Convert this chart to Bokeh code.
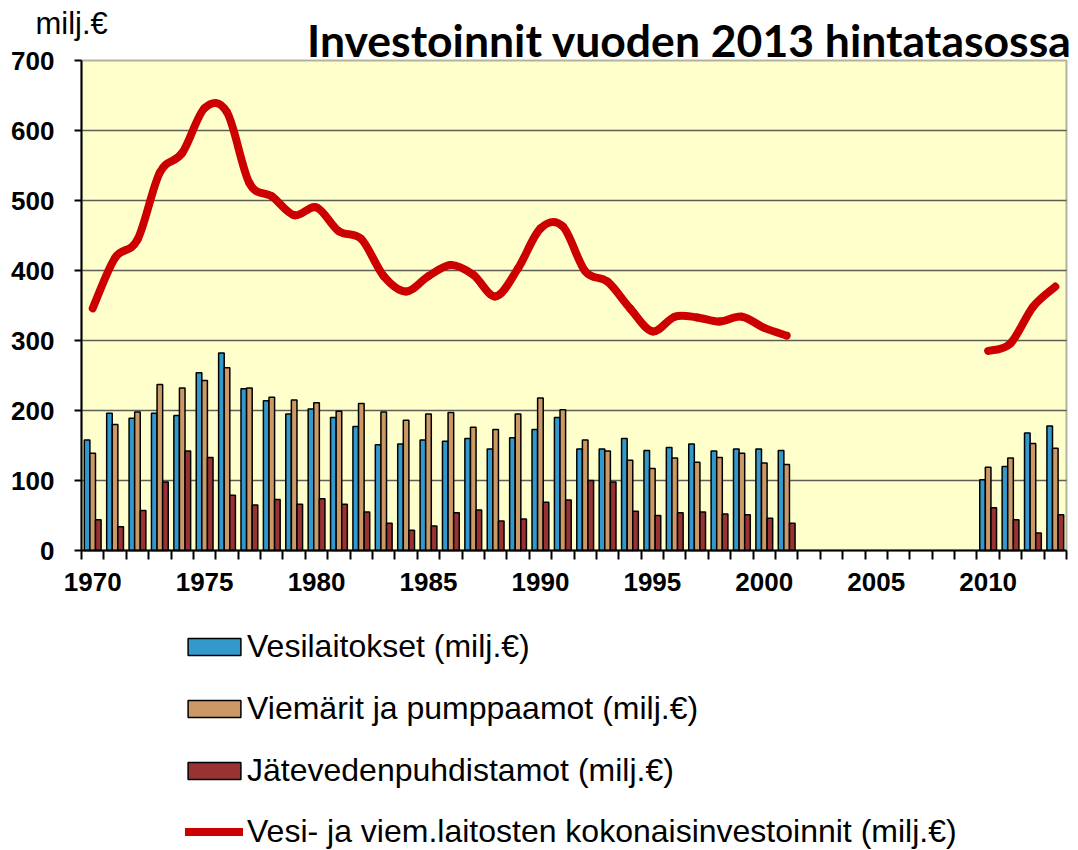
from bokeh.plotting import figure
from bokeh.models import (Range1d, FixedTicker, Legend, LegendItem, Label,
                          ColumnDataSource, BoxAnnotation)
from bokeh.embed import file_html
from bokeh.resources import INLINE

# ---------------- data ----------------
years = list(range(1970, 2014))
NA = None
vesilaitokset = [158, 196, 189, 196, 193, 254, 282, 231, 214, 195, 202, 190, 177, 151, 152,
                 158, 156, 160, 145, 161, 173, 190, 145, 145, 160, 143, 147, 152, 142, 145,
                 145, 143, NA, NA, NA, NA, NA, NA, NA, NA, 101, 120, 168, 178]
viemarit = [139, 180, 198, 237, 232, 243, 261, 232, 219, 215, 211, 199, 210, 198, 186,
            195, 197, 176, 173, 195, 218, 201, 158, 142, 129, 117, 132, 126, 133, 139,
            125, 123, NA, NA, NA, NA, NA, NA, NA, NA, 119, 132, 153, 146]
jatevesi = [44, 34, 57, 98, 142, 133, 79, 65, 73, 66, 74, 66, 55, 39, 29,
            35, 54, 58, 42, 45, 69, 72, 100, 98, 56, 50, 54, 55, 52, 51,
            46, 39, NA, NA, NA, NA, NA, NA, NA, NA, 61, 44, 25, 51]
kokonais = [346, 418, 444, 540, 568, 632, 626, 525, 506, 479, 490, 456, 445, 392, 370,
            392, 408, 394, 363, 403, 460, 463, 399, 384, 346, 313, 334, 333, 327, 334,
            318, 307, NA, NA, NA, NA, NA, NA, NA, NA, 285, 296, 348, 377]
tick_years = [1970, 1975, 1980, 1985, 1990, 1995, 2000, 2005, 2010]
y_ticks = [0, 100, 200, 300, 400, 500, 600, 700]

series_labels = ["Vesilaitokset (milj.€)", "Viemärit ja pumppaamot (milj.€)",
                 "Jätevedenpuhdistamot (milj.€)",
                 "Vesi- ja viem.laitosten kokonaisinvestoinnit (milj.€)"]
title_text = "Investoinnit vuoden 2013 hintatasossa"
unit_text = "milj.€"

# ---------------- layout ----------------
# The frame spans the whole canvas; axes are pinned to the plot-area edges.
W, H = 1076, 850
PL, PR, PT, PB = 81, 1066, 60, 550          # plot-area box in canvas pixels
XA, XB = years[0] - 0.5, years[-1] + 0.5     # category extent
YA, YB = y_ticks[0], y_ticks[-1]
xs_per_px = (XB - XA) / (PR - PL)
ys_per_px = (YB - YA) / (PB - PT)
X_LO = XA - PL * xs_per_px
X_HI = XB + (W - PR) * xs_per_px
Y_HI = YB + PT * ys_per_px
Y_LO = YA - (H - PB) * ys_per_px
FONT = "Liberation Sans"


def dx(cx):
    return X_LO + cx * xs_per_px


def dy(cy):
    return Y_HI - cy * ys_per_px


p = figure(width=W, height=H, output_backend="svg", toolbar_location=None,
           title=None, x_range=Range1d(X_LO, X_HI), y_range=Range1d(Y_LO, Y_HI),
           min_border_left=0, min_border_right=0, min_border_top=0,
           min_border_bottom=0)
p.background_fill_color = "white"
p.border_fill_color = "white"
p.outline_line_color = None

# plot area (yellow, black border)
p.add_layout(BoxAnnotation(left=XA, right=XB, bottom=YA, top=YB,
                           fill_color="#FFFFCC", fill_alpha=1.0,
                           line_color="black", line_width=2, level="image"))

# horizontal grid lines
grid_ticks = y_ticks[1:-1]
GRID_COLOR = "#5e5e55"
g = p.ygrid[0]
if "cross_bounds" in g.properties():
    g.ticker = FixedTicker(ticks=grid_ticks)
    g.cross_bounds = (XA, XB)
    g.grid_line_color = GRID_COLOR
    g.grid_line_width = 1.3
else:
    g.visible = False
    p.segment(x0=[XA] * len(grid_ticks), x1=[XB] * len(grid_ticks),
              y0=grid_ticks, y1=grid_ticks, line_color=GRID_COLOR, line_width=1.3)
p.xgrid.visible = False

# axes
p.yaxis.fixed_location = XA
p.xaxis.fixed_location = YA
p.yaxis.bounds = (YA, YB)
p.xaxis.bounds = (XA, XB)
p.yaxis.ticker = FixedTicker(ticks=y_ticks)
p.xaxis.ticker = FixedTicker(ticks=tick_years,
                             minor_ticks=[y - 0.5 for y in years] + [years[-1] + 0.5])
for ax in (p.xaxis[0], p.yaxis[0]):
    ax.axis_line_color = "black"
    ax.axis_line_width = 2
    ax.major_label_text_font = FONT
    ax.major_label_text_font_style = "bold"
    ax.major_label_text_font_size = "26px"
    ax.major_label_text_color = "black"
p.yaxis.major_tick_line_color = "black"
p.yaxis.major_tick_line_width = 2
p.yaxis.major_tick_out = 7
p.yaxis.major_tick_in = 0
p.yaxis.minor_tick_line_color = None
p.yaxis.major_label_standoff = 20
p.xaxis.major_tick_line_color = None
p.xaxis.major_tick_out = 0
p.xaxis.major_tick_in = 0
p.xaxis.minor_tick_line_color = "black"
p.xaxis.minor_tick_line_width = 2
p.xaxis.minor_tick_out = 9
p.xaxis.minor_tick_in = 0
p.xaxis.major_label_standoff = 13

# bars
BW = 0.25


def bars(vals, offset, color):
    xs = [y + offset for y, v in zip(years, vals) if v is not None]
    tops = [v for v in vals if v is not None]
    src = ColumnDataSource(dict(x=xs, top=tops))
    return p.vbar(x="x", top="top", bottom=0, width=BW, source=src,
                  fill_color=color, line_color="black", line_width=1.5)


r1 = bars(vesilaitokset, -BW, "#3399CC")
r2 = bars(viemarit, 0.0, "#CC9966")
r3 = bars(jatevesi, BW, "#993333")

# smoothed total line (Bezier segments built from the data points)
runs, cur = [], []
for x, v in zip(years, kokonais):
    if v is None:
        if cur:
            runs.append(cur)
            cur = []
    else:
        cur.append((x, v))
if cur:
    runs.append(cur)

seg = dict(x0=[], y0=[], x1=[], y1=[], cx0=[], cy0=[], cx1=[], cy1=[])
for run in runs:
    n = len(run)
    for i in range(n - 1):
        pa = run[i - 1] if i > 0 else run[i]
        pb = run[i]
        pc = run[i + 1]
        pd = run[i + 2] if i + 2 < n else run[i + 1]
        seg["x0"].append(pb[0]); seg["y0"].append(pb[1])
        seg["x1"].append(pc[0]); seg["y1"].append(pc[1])
        seg["cx0"].append(pb[0] + (pc[0] - pa[0]) / 6.0)
        seg["cy0"].append(pb[1] + (pc[1] - pa[1]) / 6.0)
        seg["cx1"].append(pc[0] - (pd[0] - pb[0]) / 6.0)
        seg["cy1"].append(pc[1] - (pd[1] - pb[1]) / 6.0)

r4 = p.bezier(x0="x0", y0="y0", x1="x1", y1="y1", cx0="cx0", cy0="cy0",
              cx1="cx1", cy1="cy1", source=ColumnDataSource(seg),
              line_color="#CC0000", line_width=8, line_cap="round")

# legends below the plot area (frame covers the whole canvas)
legend_style = dict(orientation="vertical", label_height=38, spacing=24,
                    padding=0, margin=0, border_line_color=None,
                    background_fill_alpha=0, label_text_font=FONT,
                    label_text_font_size="32px", label_text_color="black")
bar_legend = Legend(items=[LegendItem(label=series_labels[0], renderers=[r1]),
                           LegendItem(label=series_labels[1], renderers=[r2]),
                           LegendItem(label=series_labels[2], renderers=[r3])],
                    location=(181, 61), glyph_width=66, glyph_height=21,
                    label_standoff=0, **legend_style)
line_legend = Legend(items=[LegendItem(label=series_labels[3], renderers=[r4])],
                     location=(185, 0), glyph_width=58, glyph_height=21,
                     label_standoff=4, **legend_style)
p.add_layout(bar_legend)
p.add_layout(line_legend)

# title and unit texts
p.add_layout(Label(x=dx(689), y=dy(39), text=title_text, text_font="Lato",
                   text_font_style="bold", text_font_size="44.5px",
                   text_align="center", text_baseline="alphabetic",
                   text_color="black"))
p.add_layout(Label(x=dx(35), y=dy(23), text=unit_text, text_font=FONT,
                   text_font_size="31px", text_align="left",
                   text_baseline="alphabetic", text_color="black"))

open("out.html", "w").write(file_html(p, INLINE))
